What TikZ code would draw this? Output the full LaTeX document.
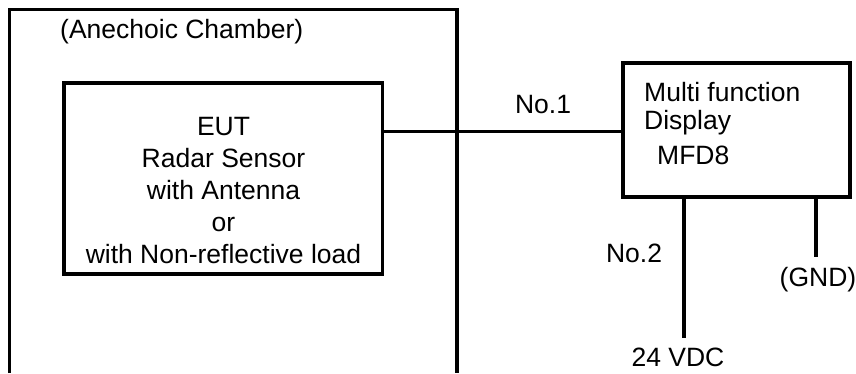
\documentclass[tikz,border=0pt]{standalone}
\usepackage{fontspec}
\setmainfont{Liberation Sans}
\begin{document}
\begin{tikzpicture}[x=1pt,y=-1pt,
  wire/.style={line width=3.5pt},
  lbl/.style={font=\fontsize{26.5}{31}\selectfont,inner sep=0pt}]
\useasboundingbox (0,0) rectangle (856,373);
% chamber (open at bottom)
\draw[wire] (9.5,373) -- (9.5,9.5) -- (457,9.5) -- (457,373);
\node[lbl,anchor=west] (ch) at (60,32) {(Anechoic Chamber)};
% EUT box
\draw[wire] (64,83) rectangle (382.5,274);
\coordinate (eutR) at (382.5,131);
\node[lbl,align=center,font=\fontsize{26.5}{32}\selectfont] (eut) at (223.5,191) {EUT\\Radar Sensor\\with Antenna\\or\\with Non-reflective load};
% MFD box
\draw[wire] (623,63) rectangle (850,197);
\coordinate (mfdL) at (623,131);
\node[lbl,anchor=west] (m1) at (644,92) {Multi function};
\node[lbl,anchor=west] (m2) at (644,123) {Display};
\node[lbl,anchor=west] (m3) at (657,155) {MFD8};
% No.1
\draw[line width=3pt] (eutR) -- (mfdL);
\node[lbl] (n1) at (543,105) {No.1};
% No.2
\coordinate (p1) at (684,197);
\coordinate (p2) at (684,338);
\draw[wire] (p1) -- (p2);
\node[lbl] (n2) at (634,253) {No.2};
\node[lbl] (v24) at (678,357) {24 VDC};
% GND
\coordinate (g1) at (816,197);
\coordinate (g2) at (816,257);
\draw[wire] (g1) -- (g2);
\node[lbl] (gnd) at (818,280) {(GND)};
\end{tikzpicture}
\end{document}
